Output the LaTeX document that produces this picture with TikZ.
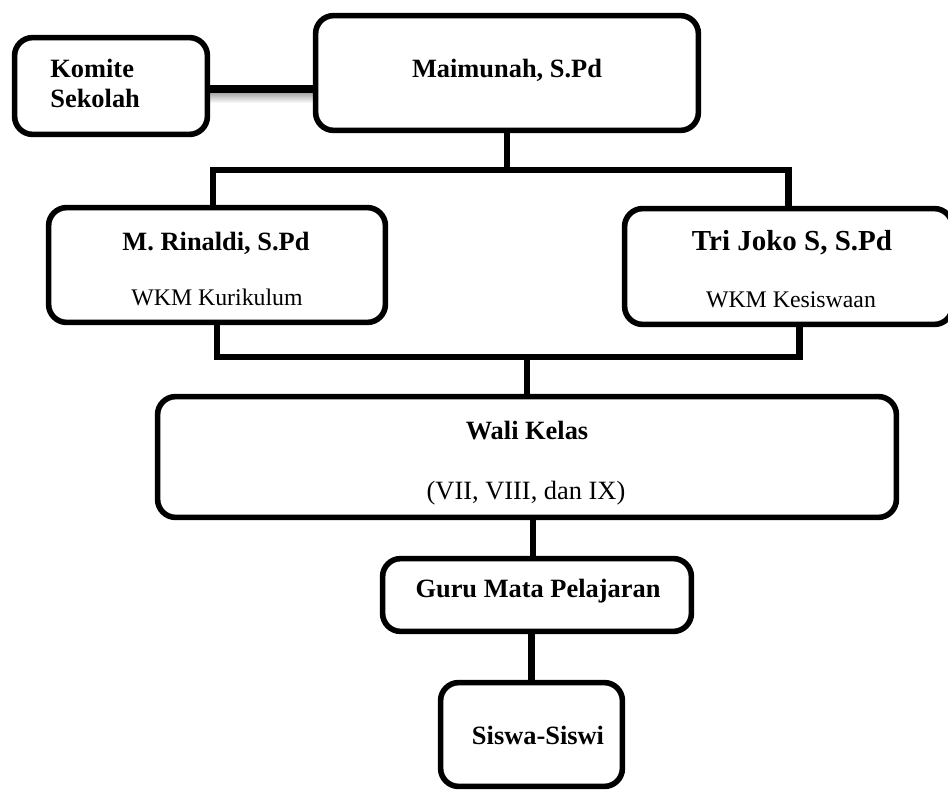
\documentclass[tikz,border=0pt]{standalone}
\usepackage{fontspec}
\setmainfont{Liberation Serif}
\begin{document}
\begin{tikzpicture}[x=0.5pt,y=-0.5pt,
  box/.style={draw=black, line width=2.8pt, rounded corners=9pt, fill=white, inner sep=0pt},
  link/.style={draw=black, line width=3.2pt},
  bold/.style={font=\fontsize{13.2}{15}\selectfont\bfseries, inner sep=0pt},
  boldbig/.style={font=\fontsize{14.5}{17}\selectfont\bfseries, inner sep=0pt},
  small/.style={font=\fontsize{11.9}{14}\selectfont, inner sep=0pt},
  normal/.style={font=\fontsize{13.2}{15}\selectfont, inner sep=0pt}]
\useasboundingbox (0,0) rectangle (948,792);
\clip (0,0) rectangle (948,792);
% box placeholders
\path (111,86) node[minimum width=96pt, minimum height=48pt, inner sep=0pt] (kom) {};
\path (507,73) node[minimum width=191pt, minimum height=57pt, inner sep=0pt] (maim) {};
\path (217,265) node[minimum width=168pt, minimum height=57pt, inner sep=0pt] (rin) {};
\path (788.5,266.5) node[minimum width=163.5pt, minimum height=57.5pt, inner sep=0pt] (tri) {};
\path (527,457) node[minimum width=369pt, minimum height=60pt, inner sep=0pt] (wali) {};
\path (537,595) node[minimum width=154pt, minimum height=36pt, inner sep=0pt] (guru) {};
\path (531.5,734.5) node[minimum width=90.5pt, minimum height=51.5pt, inner sep=0pt] (siswa) {};
% connectors
\shade[top color=gray!75, bottom color=white] ([yshift=-3pt]kom.east) rectangle ([yshift=-8.5pt]kom.east -| maim.west);
\draw[link, line width=4pt] ([yshift=-1.5pt]kom.east) -- ([yshift=-1.5pt]kom.east -| maim.west);
\coordinate (bar1) at (0,170);
\draw[link] (maim.south) -- (maim.south |- bar1);
\draw[link] ([xshift=-2pt]rin.north) |- (bar1 -| tri.north) -- (tri.north);
\coordinate (bar2) at (0,357);
\draw[link] (rin.south) |- ([xshift=5.5pt]bar2 -| tri.south) -- ([xshift=5.5pt]tri.south);
\draw[link] (wali.north) -- (wali.north |- bar2);
\draw[link] ([xshift=-2pt]guru.north) -- ([xshift=-2pt]guru.north |- wali.south);
\draw[link] (siswa.north) -- (siswa.north |- guru.south);
% boxes
\foreach \n in {kom,maim,rin,tri,wali,guru,siswa}{
  \draw[box] (\n.north west) rectangle (\n.south east);
}
% texts
\node[bold, anchor=base west] (t1) at (50,78) {Komite};
\node[bold, anchor=base west] (t2) at (50,108) {Sekolah};
\node[bold, anchor=base] (t3) at (507,78) {Maimunah, S.Pd};
\node[bold, anchor=base] (t4) at (216,250) {M. Rinaldi, S.Pd};
\node[small, anchor=base] (t5) at (217,305) {WKM Kurikulum};
\node[boldbig, anchor=base] (t6) at (792,250) {Tri Joko S, S.Pd};
\node[small, anchor=base] (t7) at (791,307) {WKM Kesiswaan};
\node[bold, anchor=base] (t8) at (527,439) {Wali Kelas};
\node[normal, anchor=base] (t9) at (526,499) {(VII, VIII, dan IX)};
\node[bold, anchor=base] (t10) at (538,597) {Guru Mata Pelajaran};
\node[bold, anchor=base] (t11) at (538,744) {Siswa-Siswi};
\end{tikzpicture}
\end{document}
